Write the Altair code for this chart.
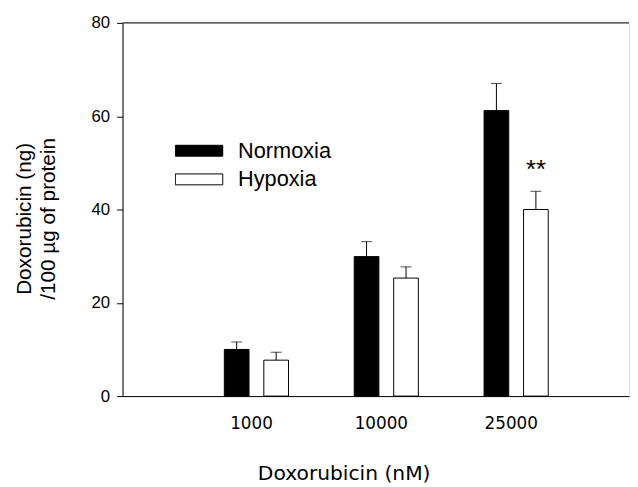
import altair as alt
import pandas as pd

doses = ["1000", "10000", "25000"]
conditions = ["Normoxia", "Hypoxia"]
normoxia_mean = [10.0, 29.9, 61.2]
normoxia_sd = [1.6, 3.2, 5.8]
hypoxia_mean = [7.7, 25.3, 40.0]
hypoxia_sd = [1.7, 2.4, 3.9]
hypoxia_sig = ["", "", "**"]
y_ticks = [0, 20, 40, 60, 80]
bar_colors = ["black", "white"]

rows = []
for i, d in enumerate(doses):
    rows.append(dict(dose=d, condition=conditions[0], mean=normoxia_mean[i],
                     upper=normoxia_mean[i] + normoxia_sd[i], sig=""))
    rows.append(dict(dose=d, condition=conditions[1], mean=hypoxia_mean[i],
                     upper=hypoxia_mean[i] + hypoxia_sd[i], sig=hypoxia_sig[i]))
df = pd.DataFrame(rows)

W, H = 513, 378

x = alt.X(
    "dose:N", sort=doses,
    scale=alt.Scale(paddingInner=0, paddingOuter=0.45, align=0.59),
    axis=alt.Axis(
        title="Doxorubicin (nM)", ticks=False, labelAngle=0,
        labelFont="DejaVu Sans", labelFontSize=17, labelPadding=20,
        labelOffset=-5,
        labelColor="black", domainColor="black", domainWidth=1,
        titleFont="DejaVu Sans", titleFontSize=20.5, titleFontWeight="normal",
        titleColor="black", titleBaseline="alphabetic", titleX=224, titleY=84,
    ),
)
xo = alt.XOffset("condition:N", sort=conditions,
                 scale=alt.Scale(paddingInner=0.375, paddingOuter=0.832))
y = alt.Y(
    "mean:Q",
    scale=alt.Scale(domain=[0, 80], nice=False),
    axis=alt.Axis(
        values=y_ticks, grid=False, tickSize=6, tickColor="black",
        domainColor="black", labelFont="Liberation Sans", labelFontSize=17,
        labelPadding=7, labelColor="black",
        title=["Doxorubicin (ng)", "/100 µg of protein"],
        titleFont="Liberation Sans", titleFontSize=21, titleFontWeight="normal",
        titleColor="black", titleLineHeight=24, titleAngle=270,
        titleBaseline="bottom", titleAlign="center", titleX=-89, titleY=198,
    ),
)

base = alt.Chart(df)

bars = base.mark_bar(stroke="black", strokeWidth=1).encode(
    x=x, xOffset=xo, y=y,
    fill=alt.Fill(
        "condition:N", sort=conditions,
        scale=alt.Scale(domain=conditions, range=bar_colors),
        legend=alt.Legend(
            title=None, orient="none", legendX=53, legendY=119,
            symbolType="M-1,-0.23H1V0.23H-1Z", symbolSize=2304,
            symbolStrokeColor="black", symbolStrokeWidth=1, symbolOpacity=1,
            labelFont="Liberation Sans", labelFontSize=22, labelColor="black",
            labelOffset=15, clipHeight=21, rowPadding=6, padding=0,
        ),
    ),
)

err = base.mark_rule(color="black", strokeWidth=1).encode(
    x=x, xOffset=xo, y="mean:Q", y2="upper:Q"
)
caps = base.mark_tick(orient="horizontal", size=11, thickness=1, color="black").encode(
    x=x, xOffset=xo, y="upper:Q"
)
stars = base.mark_text(
    font="Liberation Sans", fontSize=26, baseline="alphabetic", dy=-13, color="black"
).encode(x=x, xOffset=xo, y="upper:Q", text="sig:N")

top_line = alt.Chart(pd.DataFrame({"top": [y_ticks[-1]]})).mark_rule(
    color="black", strokeWidth=1
).encode(y=alt.datum(y_ticks[-1]), x=alt.value(0), x2=alt.value(W))

chart = alt.layer(bars, err, caps, stars, top_line).properties(
    width=W, height=H,
    autosize=alt.AutoSizeParams(type="none"),
    padding={"left": 116, "top": 12, "right": 1, "bottom": 89},
).configure_view(stroke=None).configure(background="white")

chart.save("out.html", embed_options={"renderer": "svg", "actions": False})
